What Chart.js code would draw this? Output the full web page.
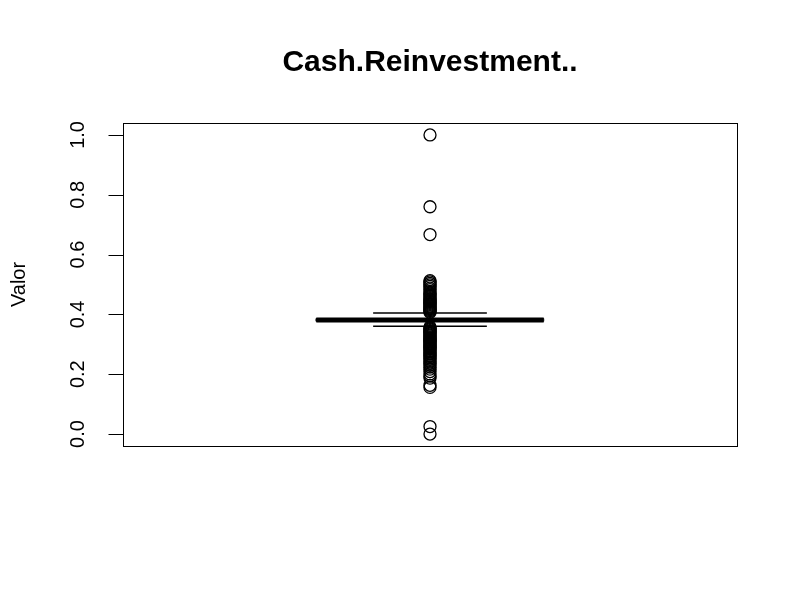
<!DOCTYPE html>
<html>
<head>
<meta charset="utf-8">
<script src="https://cdn.jsdelivr.net/npm/chart.js@4"></script>
<style>
  html, body { margin: 0; padding: 0; background: #fff; }
  canvas { display: block; }
</style>
</head>
<body>
<canvas id="chart" width="800" height="600"></canvas>
<script>
// chart text
const chartTitle = 'Cash.Reinvestment..';
const yLabel = 'Valor';

// y axis ticks
const yTicks = [0, 0.2, 0.4, 0.6, 0.8, 1.0];
const yTickLabels = ['0.0', '0.2', '0.4', '0.6', '0.8', '1.0'];

// box statistics: lower whisker, Q1, median, Q3, upper whisker
const whiskerLow = 0.36;
const q1 = 0.377;
const median = 0.381;
const q3 = 0.386;
const whiskerHigh = 0.405;

// points outside the whiskers
const outliers = [
    1.0, 0.76, 0.667,
    0.513, 0.509, 0.504, 0.499, 0.494, 0.488, 0.483, 0.477, 0.472, 0.468,
    0.464, 0.46, 0.456, 0.452, 0.449, 0.446, 0.443, 0.44, 0.437, 0.434,
    0.431, 0.428, 0.425, 0.422, 0.419, 0.416, 0.413, 0.41, 0.407,
    0.358, 0.355, 0.352, 0.349, 0.346, 0.343, 0.34, 0.337, 0.334, 0.331,
    0.328, 0.325, 0.322, 0.319, 0.316, 0.313, 0.31, 0.307, 0.304, 0.301,
    0.298, 0.295, 0.292, 0.289, 0.286, 0.283, 0.279, 0.275, 0.271, 0.267,
    0.263, 0.259, 0.255, 0.251, 0.246, 0.241, 0.236, 0.23, 0.224, 0.217,
    0.209, 0.201, 0.194, 0.187,
    0.163, 0.156, 0.025, 0.0
];

const boxCenter = 1;
const boxHalf = 0.2;
const stapleHalf = 0.1;

const frameAndAxis = {
    id: 'frameAndAxis',
    afterDraw(chart) {
        const ctx = chart.ctx;
        const area = chart.chartArea;
        const y = chart.scales.y;
        ctx.save();
        ctx.strokeStyle = '#000';
        ctx.lineWidth = 1;
        ctx.strokeRect(Math.round(area.left) + 0.5, Math.round(area.top) + 0.5,
            Math.round(area.right - area.left), Math.round(area.bottom - area.top));

        // y axis line and ticks
        const x0 = Math.round(area.left) + 0.5;
        ctx.beginPath();
        ctx.moveTo(x0, y.getPixelForValue(yTicks[0]));
        ctx.lineTo(x0, y.getPixelForValue(yTicks[yTicks.length - 1]));
        yTicks.forEach(v => {
            const py = Math.round(y.getPixelForValue(v)) + 0.5;
            ctx.moveTo(x0, py);
            ctx.lineTo(x0 - 15, py);
        });
        ctx.stroke();

        ctx.fillStyle = '#000';
        ctx.font = '20px "Liberation Sans", Arial, sans-serif';
        ctx.textAlign = 'center';
        ctx.textBaseline = 'middle';
        yTicks.forEach((v, i) => {
            const py = y.getPixelForValue(v);
            ctx.save();
            ctx.translate(78, py);
            ctx.rotate(-Math.PI / 2);
            ctx.fillText(yTickLabels[i], 0, 0);
            ctx.restore();
        });

        // axis title
        ctx.save();
        ctx.translate(19, (area.top + area.bottom) / 2);
        ctx.rotate(-Math.PI / 2);
        ctx.fillText(yLabel, 0, 0);
        ctx.restore();

        // main title
        ctx.font = 'bold 30px "Liberation Sans", Arial, sans-serif';
        ctx.fillText(chartTitle, (area.left + area.right) / 2, 63);
        ctx.restore();
    }
};

const lineSet = (data, width, dash) => ({
    type: 'line',
    data: data,
    borderColor: '#000',
    borderWidth: width,
    borderDash: dash || [],
    pointRadius: 0,
    fill: false,
    tension: 0,
});

new Chart(document.getElementById('chart'), {
    type: 'scatter',
    data: {
        datasets: [
            lineSet([{x: boxCenter, y: q3}, {x: boxCenter, y: whiskerHigh}], 1, [4, 4]),
            lineSet([{x: boxCenter, y: q1}, {x: boxCenter, y: whiskerLow}], 1, [4, 4]),
            lineSet([{x: boxCenter - stapleHalf, y: whiskerHigh}, {x: boxCenter + stapleHalf, y: whiskerHigh}], 1.5),
            lineSet([{x: boxCenter - stapleHalf, y: whiskerLow}, {x: boxCenter + stapleHalf, y: whiskerLow}], 1.5),
            lineSet([
                {x: boxCenter - boxHalf, y: q1}, {x: boxCenter + boxHalf, y: q1},
                {x: boxCenter + boxHalf, y: q3}, {x: boxCenter - boxHalf, y: q3},
                {x: boxCenter - boxHalf, y: q1}
            ], 1),
            lineSet([{x: boxCenter - boxHalf, y: median}, {x: boxCenter + boxHalf, y: median}], 5),
            {
                type: 'scatter',
                data: outliers.map(v => ({x: boxCenter, y: v})),
                pointStyle: 'circle',
                pointRadius: 6,
                pointBorderWidth: 1.3,
                borderColor: '#000',
                backgroundColor: 'rgba(0,0,0,0)',
                pointHoverRadius: 6,
            }
        ]
    },
    options: {
        responsive: false,
        animation: false,
        events: [],
        layout: { padding: { left: 123, right: 63, top: 123, bottom: 154 } },
        plugins: {
            legend: { display: false },
            tooltip: { enabled: false },
            title: { display: false },
        },
        scales: {
            x: { type: 'linear', min: 0.46, max: 1.54, display: false },
            y: { type: 'linear', min: -0.04, max: 1.04, display: false },
        }
    },
    plugins: [frameAndAxis]
});
</script>
</body>
</html>
